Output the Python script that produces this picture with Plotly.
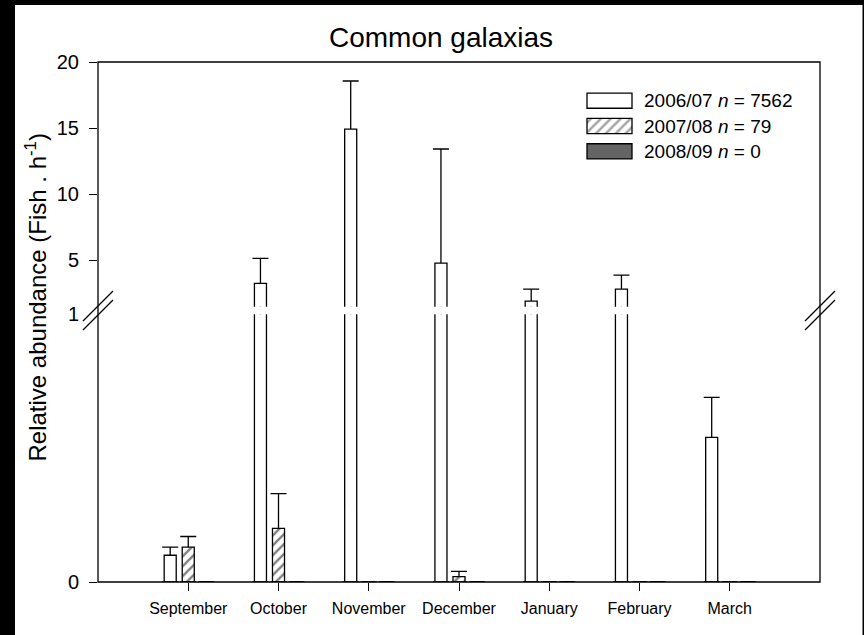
import plotly.graph_objects as go

# ---------------- data ----------------
months = ["September", "October", "November", "December", "January", "February", "March"]
seasons = ["2006/07", "2007/08", "2008/09"]
n_counts = [7562, 79, 0]

mean_0607 = [0.10, 3.23, 14.92, 4.77, 1.89, 2.80, 0.54]
se_0607 = [0.03, 1.90, 3.64, 8.64, 0.91, 1.06, 0.15]
mean_0708 = [0.13, 0.20, 0.0, 0.02, 0.0, 0.0, 0.0]
se_0708 = [0.04, 0.13, 0.0, 0.02, 0.0, 0.0, 0.0]
mean_0809 = [0.0, 0.0, 0.0, 0.0, 0.0, 0.0, 0.0]
se_0809 = [0.0, 0.0, 0.0, 0.0, 0.0, 0.0, 0.0]

upper_ticks = [5, 10, 15, 20]
lower_ticks = [0, 1]

# ---------------- styles ----------------
FONT = "Liberation Sans, Arial, sans-serif"
GREY = "#646464"
LW = 1.3
means = [mean_0607, mean_0708, mean_0809]
ses = [se_0607, se_0708, se_0809]
fills = ["white", "white", GREY]
patterns = ["", "/", ""]
HATCH = dict(fgcolor="black", size=7, solidity=0.33)

# pixel geometry of the plot area (figure is 864 x 635)
L, R, T, B = 98, 820, 62, 582
W, H = R - L, B - T


def px_x(x):
    return (x - L) / W


def px_y(y):
    return (B - y) / H


lower_top_px = 314.3
upper_bot_px = 306.7
upper_scale = 13.2  # px per unit in the upper segment
upper_range = [20 - (upper_bot_px - T) / upper_scale, 20]

fig = go.Figure()

subplots = [("x", "y"), ("x2", "y2")]
for xa, ya in subplots:
    # error-bar carriers (drawn first, hidden below the visible bars)
    for s, m, e in zip(seasons, means, ses):
        fig.add_trace(go.Bar(
            x=months, y=m, xaxis=xa, yaxis=ya, offsetgroup=s,
            marker=dict(color="rgba(0,0,0,0)", line=dict(width=0)),
            error_y=dict(type="data", symmetric=False, array=e, arrayminus=m,
                         color="black", thickness=LW, width=8),
            showlegend=False, hoverinfo="skip"))
    # visible bars
    for s, m, f, p in zip(seasons, means, fills, patterns):
        fig.add_trace(go.Bar(
            x=months, y=m, xaxis=xa, yaxis=ya, offsetgroup=s, name=s,
            marker=dict(color=f, line=dict(color="black", width=LW),
                        pattern=dict(shape=p, bgcolor=f, **HATCH)),
            showlegend=False))

# legend symbols as a small helper subplot
fig.add_trace(go.Bar(
    orientation="h", x=[1] * len(seasons), y=list(range(len(seasons))), base=0,
    width=0.6, xaxis="x3", yaxis="y3",
    marker=dict(color=fills, line=dict(color="black", width=LW),
                pattern=dict(shape=patterns, **HATCH)),
    showlegend=False, hoverinfo="skip"))

box_l, box_r = 587, 632
box_w = box_r - box_l
leg_dom_px = (88, 164)
row_h = (leg_dom_px[1] - leg_dom_px[0]) / len(seasons)

annotations = []
for i, (s, n) in enumerate(zip(seasons, n_counts)):
    annotations.append(dict(
        x=px_x(642), y=px_y(leg_dom_px[0] + row_h * (i + 0.5)),
        xref="paper", yref="paper",
        text=f"{s} <i>n</i> = {n}", showarrow=False,
        xanchor="left", yanchor="middle",
        font=dict(family=FONT, size=19, color="black")))

annotations.append(dict(
    x=px_x(35), y=px_y(297.5), xref="paper", yref="paper",
    text="Relative abundance (Fish . h<sup>-1</sup>)", textangle=-90,
    showarrow=False, xanchor="center", yanchor="middle",
    font=dict(family=FONT, size=24, color="black")))

shapes = []
# black edge strips of the original image
for x0, x1, y0, y1 in [(-10, 15, -10, 650), (-10, 880, -10, 5), (862.5, 880, -10, 650)]:
    shapes.append(dict(type="rect", xref="paper", yref="paper",
                       x0=px_x(x0), x1=px_x(x1), y0=px_y(y1), y1=px_y(y0),
                       fillcolor="black", line=dict(width=0), layer="above"))
# hide the tick mark at the axis break (label "1" stays)
shapes.append(dict(type="rect", xref="paper", yref="paper",
                   x0=px_x(88), x1=px_x(97.2), y0=px_y(317), y1=px_y(311.5),
                   fillcolor="white", line=dict(width=0), layer="above"))
# frame
shapes.append(dict(type="rect", xref="paper", yref="paper", x0=0, x1=1, y0=0, y1=1,
                   line=dict(color="black", width=LW), fillcolor="rgba(0,0,0,0)",
                   layer="above"))
# break marks
for cx in (L, R):
    for cy in (306, 315):
        shapes.append(dict(type="line", xref="paper", yref="paper",
                           x0=px_x(cx - 15), y0=px_y(cy + 15),
                           x1=px_x(cx + 15), y1=px_y(cy - 15),
                           line=dict(color="black", width=LW), layer="above"))

tickfont_y = dict(family=FONT, size=20, color="black")
tickfont_x = dict(family=FONT, size=16, color="black")

fig.update_layout(
    width=864, height=635,
    margin=dict(l=L, r=864 - R, t=T, b=635 - B),
    paper_bgcolor="white", plot_bgcolor="white",
    barmode="group", bargap=0.4, bargroupgap=0.333,
    showlegend=False,
    font=dict(family=FONT, color="black"),
    title=dict(text="Common galaxias", xref="container", yref="container",
               x=441 / 864, xanchor="center", y=1 - 37 / 635, yanchor="middle",
               font=dict(family=FONT, size=28, color="black")),
    xaxis=dict(domain=[0, 1], anchor="y", type="category", range=[-1, len(months)],
               tickvals=months, ticks="outside", ticklen=8, tickwidth=LW,
               tickcolor="black", showline=False, showgrid=False, zeroline=False,
               tickfont=tickfont_x, ticklabelstandoff=4),
    xaxis2=dict(domain=[0, 1], anchor="y2", matches="x", type="category",
                showticklabels=False, ticks="", showline=False, showgrid=False,
                zeroline=False),
    yaxis=dict(domain=[0, px_y(lower_top_px)], anchor="x", range=[0, 1],
               tickvals=lower_ticks, ticks="outside", ticklen=8, tickwidth=LW,
               tickcolor="black", showline=False, showgrid=False, zeroline=False,
               tickfont=tickfont_y, ticklabelstandoff=6),
    yaxis2=dict(domain=[px_y(upper_bot_px), 1], anchor="x2", range=upper_range,
                tickvals=upper_ticks, ticks="outside", ticklen=8, tickwidth=LW,
                tickcolor="black", showline=False, showgrid=False, zeroline=False,
                tickfont=tickfont_y, ticklabelstandoff=6),
    xaxis3=dict(domain=[px_x(582), px_x(637)], anchor="y3",
                range=[(582 - box_l) / box_w, (637 - box_l) / box_w], visible=False),
    yaxis3=dict(domain=[px_y(leg_dom_px[1]), px_y(leg_dom_px[0])], anchor="x3",
                range=[len(seasons) - 0.5, -0.5], visible=False),
    annotations=annotations,
    shapes=shapes,
)

fig.write_html("out.html", config={"displayModeBar": False},
               post_script="document.body.style.margin='0';document.body.style.padding='0';")
